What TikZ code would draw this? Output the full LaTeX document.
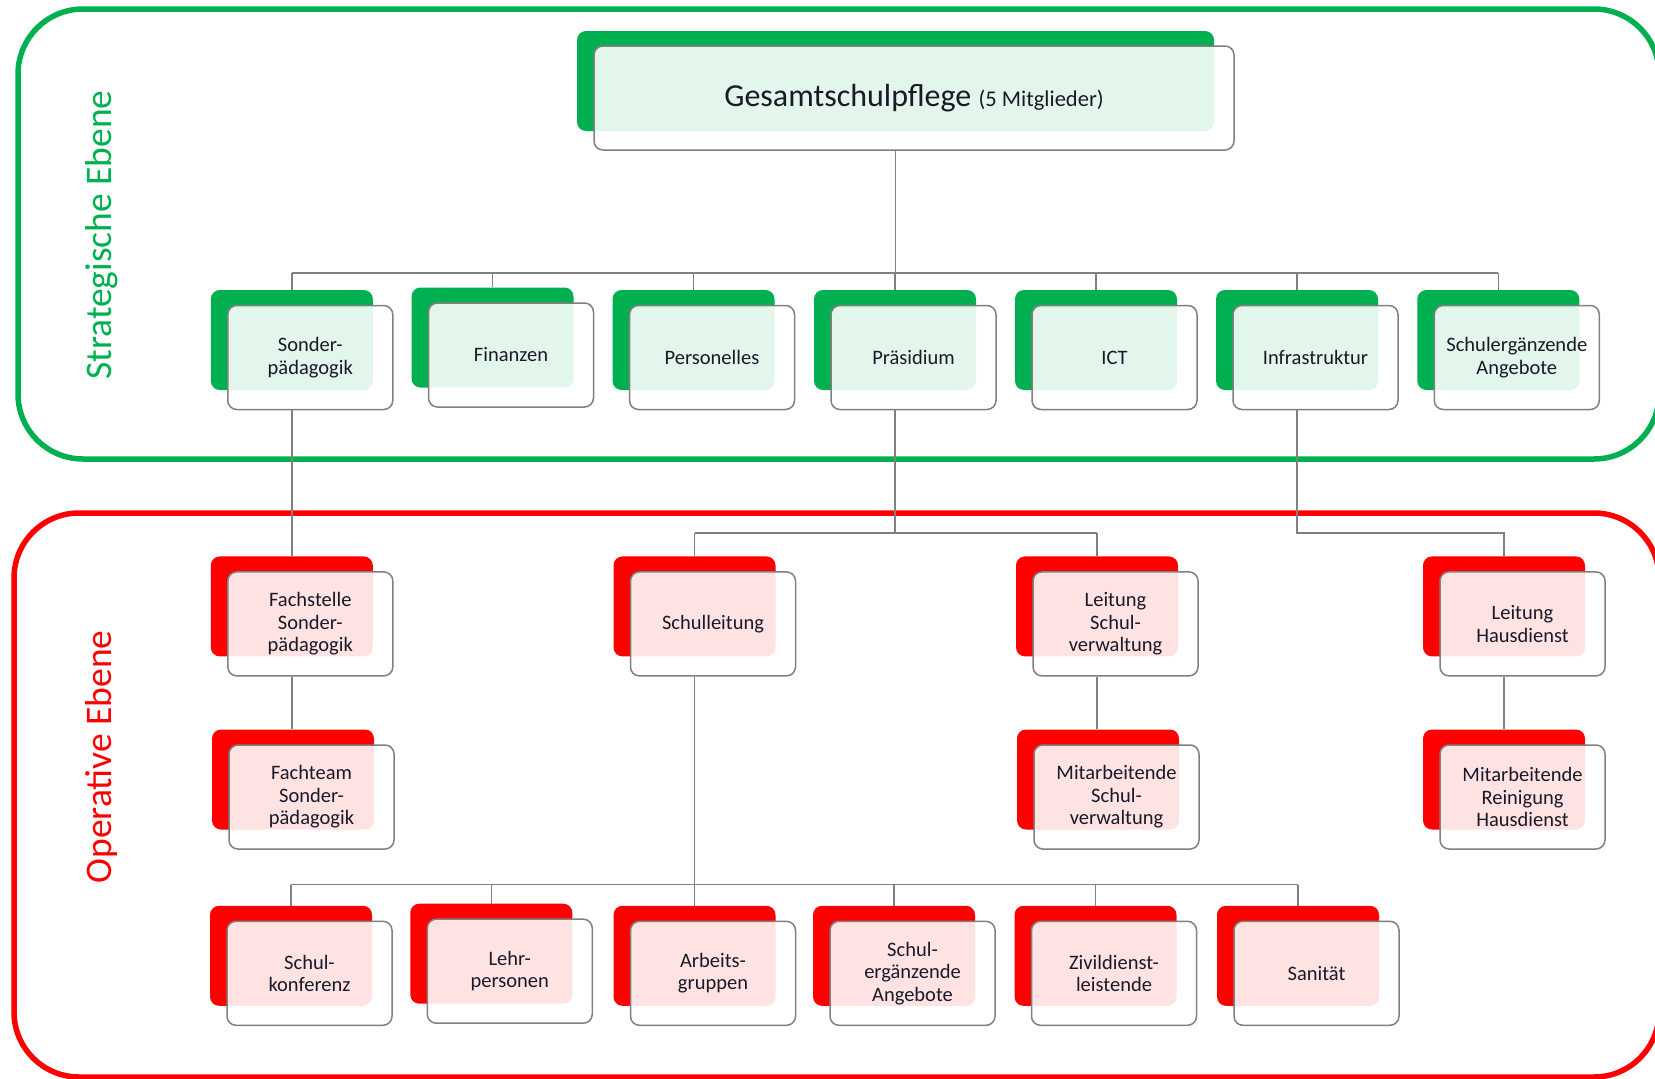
\documentclass[tikz,border=0pt]{standalone}
\usepackage{fontspec}
\setmainfont{Carlito}
\definecolor{sgreen}{RGB}{0,176,80}
\definecolor{ored}{RGB}{255,0,0}
\definecolor{bordergray}{RGB}{128,128,128}
\definecolor{linegray}{RGB}{128,128,128}
\definecolor{txt}{RGB}{25,25,40}
\tikzset{
  backbox/.style={rounded corners=9pt, minimum width=162pt, minimum height=100pt, inner sep=0pt, draw=none},
  frontbox/.style={rounded corners=9pt, minimum width=165pt, minimum height=104pt, inner sep=0pt,
    draw=bordergray, line width=1.5pt, fill=white, fill opacity=0.89, text opacity=1, text=txt,
    align=center, font=\fontsize{20.5}{22.5}\selectfont},
  conn/.style={draw=linegray, line width=1.4pt},
  frame/.style={rounded corners=65pt, line width=5.5pt},
  levellabel/.style={rotate=90, inner sep=0pt, font=\fontsize{37.5}{42}\selectfont},
}
\newcommand\orgbox[5]{%
  \node[backbox, fill=#4] (#1-b) at (#2,#3) {};
  \node[frontbox] (#1) at ({#2+18.5},{#3+17.5}) {#5};
}
\begin{document}
\begin{tikzpicture}[x=1pt,y=-1pt]
\useasboundingbox (0,0) rectangle (1655,1079);
% frames
\draw[frame, draw=sgreen] (18,9) rectangle (1659,459);
\draw[frame, draw=ored] (14,513) rectangle (1659,1077);
\node[levellabel, text=sgreen] (lblS) at (102,235) {Strategische Ebene};
\node[levellabel, text=ored] (lblO) at (102,757) {Operative Ebene};
% bus coordinates
\coordinate (bus1) at (0,273);
\coordinate (bus2) at (0,533);
\coordinate (bus3) at (0,884.5);
% title
\node[backbox, fill=sgreen, minimum width=637pt] (title-b) at (895.5,81) {};
\node[frontbox, minimum width=640pt, font=\fontsize{32}{36}\selectfont] (title) at (914,98)
  {Gesamtschulpflege {\fontsize{22.5}{26}\selectfont(5 Mitglieder)}};
% strategic level
\orgbox{sonder}{291.8}{340}{sgreen}{Sonder-\\pädagogik}
\orgbox{finanzen}{492.5}{337.5}{sgreen}{Finanzen}
\orgbox{personelles}{693.5}{340}{sgreen}{Personelles}
\orgbox{praesidium}{895}{340}{sgreen}{Präsidium}
\orgbox{ict}{1096}{340}{sgreen}{ICT}
\orgbox{infra}{1297}{340}{sgreen}{Infrastruktur}
\orgbox{schulerg}{1498.3}{340}{sgreen}{Schulergänzende\\Angebote}
% operative level row 1
\orgbox{fachstelle}{291.8}{606.4}{ored}{Fachstelle\\Sonder-\\pädagogik}
\orgbox{schulleitung}{694.5}{606.4}{ored}{Schulleitung}
\orgbox{leitungsv}{1097}{606.4}{ored}{Leitung\\Schul-\\verwaltung}
\orgbox{leitunghd}{1504}{606.4}{ored}{Leitung\\Hausdienst}
% row 2
\orgbox{fachteam}{293}{779.5}{ored}{Fachteam\\Sonder-\\pädagogik}
\orgbox{mitarbsv}{1098}{779.5}{ored}{Mitarbeitende\\Schul-\\verwaltung}
\orgbox{mitarbrh}{1504}{779.5}{ored}{Mitarbeitende\\Reinigung\\Hausdienst}
% row 3
\orgbox{schulk}{291}{955.8}{ored}{Schul-\\konferenz}
\orgbox{lehr}{491.3}{953.7}{ored}{Lehr-\\personen}
\orgbox{arbeits}{694.5}{955.8}{ored}{Arbeits-\\gruppen}
\orgbox{schulergop}{894}{955.8}{ored}{Schul-\\ergänzende\\Angebote}
\orgbox{zivil}{1095.5}{955.8}{ored}{Zivildienst-\\leistende}
\orgbox{sanitaet}{1298}{955.8}{ored}{Sanität}
% connectors: strategic
\draw[conn] (title-b.center |- title.south) -- (title-b.center |- bus1);
\draw[conn] (sonder-b.center |- bus1) -- (schulerg-b.center |- bus1);
\foreach \n in {sonder,finanzen,personelles,praesidium,ict,infra,schulerg}
  \draw[conn] (\n-b.center |- bus1) -- (\n-b.north);
% strategic to operative
\draw[conn] (sonder-b.center |- sonder.south) -- (fachstelle-b.north);
\draw[conn] (praesidium-b.center |- praesidium.south) -- (praesidium-b.center |- bus2);
\draw[conn] (schulleitung-b.center |- bus2) -- (leitungsv-b.center |- bus2);
\draw[conn] (schulleitung-b.center |- bus2) -- (schulleitung-b.north);
\draw[conn] (leitungsv-b.center |- bus2) -- (leitungsv-b.north);
\draw[conn] (infra-b.center |- infra.south) -- (infra-b.center |- bus2)
  -- (leitunghd-b.center |- bus2) -- (leitunghd-b.north);
% operative row 1 to row 2
\draw[conn] (fachstelle-b.center |- fachstelle.south) -- (fachstelle-b.center |- fachteam-b.north);
\draw[conn] (leitungsv-b.center |- leitungsv.south) -- (leitungsv-b.center |- mitarbsv-b.north);
\draw[conn] (leitunghd-b.center |- leitunghd.south) -- (mitarbrh-b.north);
% Schulleitung to row 3
\draw[conn] (schulleitung-b.center |- schulleitung.south) -- (arbeits-b.north);
\draw[conn] (schulk-b.center |- bus3) -- (sanitaet-b.center |- bus3);
\foreach \n in {schulk,lehr,arbeits,schulergop,zivil,sanitaet}
  \draw[conn] (\n-b.center |- bus3) -- (\n-b.north);
\end{tikzpicture}
\end{document}
